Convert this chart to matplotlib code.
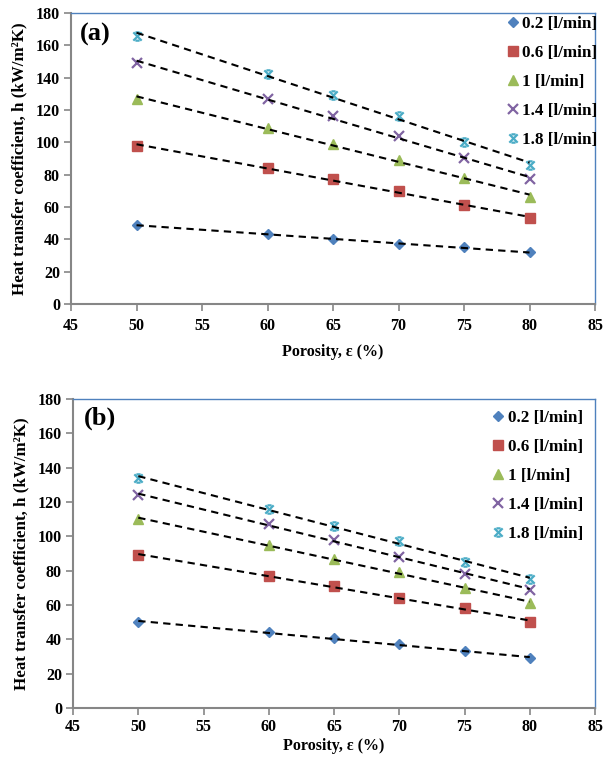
import numpy as np
import matplotlib
matplotlib.use('Agg')
import matplotlib.pyplot as plt
from matplotlib.path import Path

# ---------- Data ----------
porosity = [50, 60, 65, 70, 75, 80]
labels = ['0.2 [l/min]', '0.6 [l/min]', '1 [l/min]', '1.4 [l/min]', '1.8 [l/min]']

h_a_02 = [49, 43, 40, 37, 35, 32]
h_a_06 = [98, 84, 77, 70, 61, 53]
h_a_10 = [127, 109, 99, 89, 78, 66]
h_a_14 = [149, 127, 116, 104, 90, 77]
h_a_18 = [166, 142, 129, 116, 100, 86]

h_b_02 = [50, 44, 41, 37, 33, 29]
h_b_06 = [89, 77, 71, 64, 58, 50]
h_b_10 = [110, 95, 87, 79, 70, 61]
h_b_14 = [124, 107, 98, 88, 78, 69]
h_b_18 = [134, 116, 106, 97, 85, 75]

# ---------- Styles ----------
colors = ['#4F81BD', '#C0504D', '#9BBB59', '#8064A2', '#4BACC6']
star = Path([(-1, -1), (1, 1), (-1, 1), (1, -1), (-0.5, 1), (0.5, 1), (-0.5, -1), (0.5, -1)],
            [Path.MOVETO, Path.LINETO, Path.MOVETO, Path.LINETO,
             Path.MOVETO, Path.LINETO, Path.MOVETO, Path.LINETO])
markers = ['D', 's', '^', 'x', star]
sizes = [5.5, 7, 7.5, 6.5, 6]

plt.rcParams['font.family'] = ['Liberation Serif', 'DejaVu Serif']
plt.rcParams['font.weight'] = 'bold'
fs = 11.5

fig = plt.figure(figsize=(6.05, 7.63), dpi=100)
ax_a = fig.add_axes([0.1174, 0.6016, 0.8661, 0.3814])
ax_b = fig.add_axes([0.1207, 0.0721, 0.8628, 0.4050])

# axes, series, tag, legend anchor, tag position, tick pad, xlabel pad
panels = [
    (ax_a, [h_a_02, h_a_06, h_a_10, h_a_14, h_a_18], '(a)', (1.005, 0.99), (0.017, 0.965), 5, 7),
    (ax_b, [h_b_02, h_b_06, h_b_10, h_b_14, h_b_18], '(b)', (0.977, 0.965), (0.02, 0.975), 3, 2),
]

for ax, series, tag, leg_anchor, tag_pos, tpad, xpad in panels:
    x = np.array(porosity)
    for vals, c, m, s, lab in zip(series, colors, markers, sizes, labels):
        if m == 'x' or m is star:
            ax.plot(x, vals, linestyle='none', marker=m, color=c, markersize=s,
                    markeredgewidth=1.6, label=lab, zorder=3)
        else:
            ax.plot(x, vals, linestyle='none', marker=m, color=c, markersize=s,
                    markeredgecolor=c, label=lab, zorder=3)
        k, b = np.polyfit(x, vals, 1)
        ax.plot([x[0], x[-1]], [k * x[0] + b, k * x[-1] + b], color='black',
                linestyle=(0, (3.5, 2.5)), linewidth=1.5, zorder=4)

    ax.set_xlim(45, 85)
    ax.set_ylim(0, 180)
    ax.set_xticks(range(45, 86, 5))
    ax.set_yticks(range(0, 181, 20))
    for side in ['left', 'bottom']:
        ax.spines[side].set_color('#868686')
        ax.spines[side].set_linewidth(1.5)
    for side in ['top', 'right']:
        ax.spines[side].set_color('#4F81BD')
        ax.spines[side].set_linewidth(1.0)
    ax.tick_params(axis='both', direction='out', length=5, width=1.2, color='#868686',
                   labelsize=fs, pad=3)
    ax.tick_params(axis='x', pad=tpad)
    ax.set_xlabel('Porosity, ε (%)', fontsize=fs, fontweight='bold', labelpad=xpad)
    ax.set_ylabel('Heat transfer coefficient, h (kW/m²K)', fontsize=12.2,
                  fontweight='bold', labelpad=6)
    ax.text(tag_pos[0], tag_pos[1], tag, transform=ax.transAxes, fontsize=19,
            fontweight='bold', va='top', ha='left')
    ax.legend(loc='upper right', bbox_to_anchor=leg_anchor, frameon=False,
              prop={'size': 12.3, 'weight': 'bold'}, labelspacing=0.76, handlelength=0.5,
              handletextpad=0.3, borderaxespad=0.0, borderpad=0.0, markerscale=1.0)

fig.savefig('out.png', dpi=100)
